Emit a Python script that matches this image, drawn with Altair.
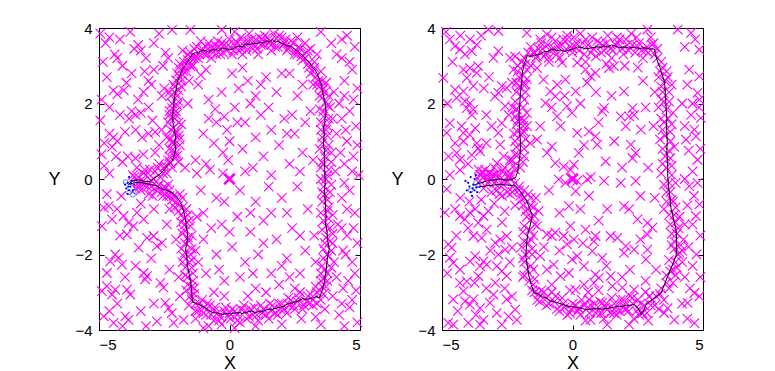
import altair as alt
import pandas as pd

X_TICKS = [-5, 0, 5]
Y_TICKS = [-4, -2, 0, 2, 4]

# ---------------- left panel ----------------
L_PATH = [(-3.87, -0.14), (-3.7, -0.05), (-3.47, -0.02), (-3.3, -0.06), (-3.08, -0.07), (-2.9, 0.02),
          (-2.75, 0.08), (-2.57, 0.19), (-2.4, 0.33), (-2.19, 0.48), (-2.12, 0.62), (-2.06, 0.79),
          (-2.1, 0.95), (-2.06, 1.14), (-2.15, 1.4), (-2.19, 1.67), (-2.14, 1.9), (-2.12, 2.12),
          (-2.05, 2.35), (-2.0, 2.56), (-1.9, 2.75), (-1.8, 2.91), (-1.6, 3.12), (-1.42, 3.31),
          (-1.3, 3.35), (-1.2, 3.33), (-1.1, 3.4), (-0.91, 3.4), (-0.8, 3.36), (-0.7, 3.42),
          (-0.52, 3.44), (-0.4, 3.4), (-0.3, 3.47), (-0.2, 3.46), (0.0, 3.42), (0.12, 3.44),
          (0.25, 3.5), (0.35, 3.52), (0.5, 3.5), (0.63, 3.58), (0.8, 3.56), (0.9, 3.6), (1.05, 3.58),
          (1.14, 3.62), (1.3, 3.6), (1.4, 3.66), (1.55, 3.64), (1.65, 3.69), (1.75, 3.62), (1.85, 3.65),
          (1.97, 3.6), (2.1, 3.57), (2.2, 3.52), (2.32, 3.53), (2.42, 3.47), (2.55, 3.42), (2.7, 3.33),
          (2.8, 3.28), (2.93, 3.16), (3.05, 3.1), (3.15, 2.98), (3.27, 2.9), (3.38, 2.76), (3.45, 2.62),
          (3.5, 2.55), (3.57, 2.29), (3.62, 2.15), (3.66, 2.0), (3.7, 1.76), (3.66, 1.6), (3.65, 1.5),
          (3.6, 1.35), (3.63, 1.23), (3.6, 0.9), (3.65, 0.75), (3.63, 0.61), (3.65, 0.25), (3.67, -0.09),
          (3.64, -0.3), (3.66, -0.5), (3.7, -0.98), (3.68, -1.2), (3.74, -1.4), (3.75, -1.6),
          (3.82, -1.86), (3.76, -2.05), (3.72, -2.3), (3.68, -2.5), (3.63, -2.75), (3.55, -2.95),
          (3.5, -3.05), (3.44, -3.14), (3.3, -3.12), (3.2, -3.15), (2.93, -3.19), (2.8, -3.17),
          (2.7, -3.22), (2.55, -3.25), (2.42, -3.28), (2.25, -3.3), (2.05, -3.38), (1.9, -3.4),
          (1.65, -3.45), (1.5, -3.45), (1.3, -3.5), (1.15, -3.5), (1.01, -3.54), (0.85, -3.5),
          (0.7, -3.52), (0.5, -3.56), (0.37, -3.54), (0.2, -3.55), (0.05, -3.57), (-0.1, -3.56),
          (-0.27, -3.59), (-0.45, -3.55), (-0.65, -3.54), (-0.85, -3.45), (-1.04, -3.37),
          (-1.25, -3.3), (-1.42, -3.26), (-1.45, -3.0), (-1.48, -2.75), (-1.55, -2.5), (-1.61, -2.3),
          (-1.64, -2.05), (-1.68, -1.86), (-1.62, -1.65), (-1.61, -1.42), (-1.66, -1.25), (-1.68, -1.07),
          (-1.76, -0.85), (-1.87, -0.62), (-2.0, -0.5), (-2.19, -0.36), (-2.38, -0.31), (-2.57, -0.27),
          (-2.8, -0.18), (-3.08, -0.14), (-3.35, -0.1), (-3.59, -0.09), (-3.87, -0.14)]

L_CROSS = [
    # outside, upper left
    (-4.75, 3.6), (-4.6, 3.75), (-3.8, 3.9), (-3.65, 3.45), (-3.5, 3.55), (-3.4, 3.4), (-4.4, 3.3),
    (-4.3, 3.2), (-4.85, 3.1), (-4.1, 3.0), (-3.75, 2.8), (-3.25, 2.85), (-2.7, 3.85), (-2.45, 3.35),
    (-2.35, 3.2), (-3.1, 2.6), (-3.0, 2.5), (-4.45, 2.35), (-4.3, 2.25), (-4.05, 2.35), (-3.5, 2.1),
    (-4.9, 2.1), (-2.9, 3.6), (-2.2, 3.95), (-2.6, 2.2), (-2.55, 3.0),
    # outside, middle left
    (-3.6, 1.7), (-3.75, 1.8), (-3.4, 1.75), (-3.85, 1.6), (-4.6, 1.2), (-4.45, 1.1), (-4.3, 1.0),
    (-4.8, 0.95), (-4.5, 0.85), (-3.6, 1.3), (-3.35, 1.1), (-3.1, 1.2), (-3.9, 0.6), (-3.6, 0.55),
    (-4.1, 0.45), (-4.8, 0.35), (-4.6, 0.15), (-2.85, 0.7), (-2.7, 0.4), (-4.95, 1.55), (-4.2, 1.7),
    (-2.95, 1.55),
    # outside, lower left
    (-4.82, -0.76), (-4.63, -0.72), (-4.31, -0.8), (-4.5, -1.07), (-4.06, -0.98), (-3.87, -1.16),
    (-3.55, -0.89), (-3.29, -1.07), (-3.68, -1.25), (-3.93, -1.47), (-4.89, -1.25), (-3.16, -1.56),
    (-2.91, -1.51), (-2.59, -1.69), (-2.78, -1.78), (-3.48, -1.82), (-4.38, -2.0), (-4.25, -2.09),
    (-4.57, -2.18), (-4.12, -2.27), (-4.7, -2.49), (-3.29, -2.49), (-3.16, -2.57), (-3.23, -2.66),
    (-4.7, -2.84), (-4.38, -2.93), (-3.93, -2.93), (-3.8, -3.06), (-4.5, -3.06), (-4.89, -2.97),
    (-2.65, -2.75), (-2.53, -2.88), (-2.46, -3.28), (-2.33, -3.42), (-2.21, -3.55), (-3.99, -3.64),
    (-3.87, -3.73), (-4.82, -3.64), (-4.44, -3.81), (-2.78, -3.77), (-2.14, -3.81), (-1.76, -3.73),
    (-4.6, -3.5), (-4.3, -3.3),
    # band near the start
    (-3.5, 0.05), (-3.3, -0.05), (-3.2, 0.1), (-3.0, -0.2), (-2.9, 0.0), (-2.8, -0.3), (-2.7, -0.15),
    (-2.6, -0.35), (-2.5, -0.2), (-2.4, -0.45), (-2.3, -0.3), (-2.2, -0.55), (-3.4, -0.3), (-3.6, -0.25),
    (-3.7, 0.1), (-3.1, -0.4), (-2.85, 0.2), (-3.55, 0.3), (-3.25, 0.25), (-2.65, 0.05),
    # band along the loop
    (-2.5, 0.3), (-2.35, 0.5), (-2.2, 0.3), (-2.1, 0.6), (-1.95, 0.45), (-2.3, 0.8), (-2.15, 1.0),
    (-1.9, 0.9), (-2.4, 1.1), (-2.25, 1.3), (-2.0, 1.25), (-1.85, 1.45), (-2.35, 1.5), (-2.1, 1.6),
    (-2.3, 1.8), (-2.0, 1.95), (-2.25, 2.2), (-1.95, 2.35), (-2.15, 2.5), (-1.85, 2.6), (-2.0, 2.8),
    (-1.7, 2.95), (-1.9, 3.05), (-1.6, 3.15), (-1.5, 3.35), (-1.3, 3.25), (-1.25, 3.5), (-1.05, 3.45),
    (-0.95, 3.3), (-0.8, 3.6), (-0.6, 3.45), (-0.45, 3.65), (-0.35, 3.3), (-0.2, 3.55), (0.0, 3.7),
    (0.15, 3.4), (0.3, 3.6), (0.45, 3.75), (0.6, 3.5), (0.75, 3.85), (0.9, 3.45), (1.0, 3.7),
    (1.2, 3.55), (1.35, 3.8), (1.5, 3.6), (1.7, 3.85), (1.85, 3.5), (2.0, 3.75), (2.2, 3.4),
    (2.35, 3.65), (2.5, 3.3), (2.65, 3.5), (2.8, 3.15), (2.95, 3.35), (3.05, 2.95), (3.25, 3.1),
    (3.3, 2.7), (3.5, 2.85), (3.45, 2.45), (3.7, 2.55), (3.55, 2.15), (3.8, 2.2), (3.6, 1.8),
    (3.85, 1.9), (3.5, 1.5), (3.75, 1.4), (3.95, 1.6), (3.55, 1.1), (3.8, 0.9), (3.65, 0.6),
    (3.9, 0.45), (3.5, 0.3), (3.75, 0.1), (3.6, -0.2), (3.85, -0.35), (3.55, -0.6), (3.8, -0.75),
    (3.95, -0.95), (3.6, -1.1), (3.85, -1.3), (3.7, -1.55), (3.95, -1.7), (3.6, -1.85), (3.8, -2.05),
    (4.0, -2.2), (3.55, -2.3), (3.75, -2.5), (3.5, -2.7), (3.7, -2.85), (3.35, -3.0), (3.5, -3.2),
    (3.2, -3.35), (3.0, -3.1), (2.85, -3.35), (2.7, -3.0), (2.5, -3.45), (2.35, -3.2), (2.2, -3.55),
    (2.0, -3.3), (1.85, -3.6), (1.65, -3.35), (1.5, -3.7), (1.3, -3.45), (1.1, -3.75), (0.95, -3.4),
    (0.75, -3.65), (0.55, -3.35), (0.4, -3.8), (0.2, -3.5), (0.05, -3.7), (-0.15, -3.4), (-0.3, -3.85),
    (-0.45, -3.55), (-0.6, -3.75), (-0.75, -3.35), (-0.9, -3.6), (-1.05, -3.2), (-1.2, -3.5),
    (-1.35, -3.05), (-1.55, -3.35), (-1.65, -2.95), (-1.4, -2.7), (-1.7, -2.55), (-1.45, -2.35),
    (-1.8, -2.2), (-1.5, -2.0), (-1.85, -1.85), (-1.55, -1.65), (-1.8, -1.45), (-1.5, -1.25),
    (-1.75, -1.05), (-1.95, -0.85), (-1.65, -0.8), (-2.05, -0.6), (-1.8, -0.5),
    (-1.8, 3.4), (-1.4, 3.0), (-1.1, 3.65), (-0.7, 3.2), (0.5, 3.3), (1.1, 3.3), (1.6, 3.4), (2.1, 3.6),
    (2.6, 3.75), (2.9, 3.6), (3.1, 3.45), (3.35, 3.3), (3.2, 2.5), (3.6, 2.4), (4.0, 2.3), (4.2, 2.0),
    (4.1, 1.2), (4.25, 0.7), (4.05, 0.2), (4.3, -0.5), (4.15, -1.2), (4.35, -1.9), (4.1, -2.6),
    (3.95, -3.1), (3.65, -3.45), (3.3, -3.65), (2.75, -3.7), (2.0, -3.85), (1.0, -3.9), (0.2, -3.95),
    (-0.8, -3.9), (-1.3, -3.7), (-1.9, -3.1), (-1.95, -2.6), (-2.05, -1.6), (-1.3, -1.9), (-1.25, -1.0),
    (-2.3, -0.8), (3.2, 0.5), (3.25, -1.5), (3.3, -2.2), (3.1, 1.8), (-1.7, 0.3), (-1.6, 2.0),
    (-1.55, 2.6), (-2.5, 2.4), (-2.6, 1.3), (-2.7, 0.9),
    # tight band on the track
    (-2.05, 0.7), (-2.2, 0.95), (-1.95, 1.15), (-2.15, 1.35), (-2.25, 1.6), (-2.05, 1.8), (-2.2, 2.0),
    (-2.0, 2.2), (-2.1, 2.45), (-1.9, 2.7), (-1.75, 2.85), (-1.55, 3.05), (-1.35, 3.2), (-2.45, 0.35),
    (-2.3, 0.6), (-1.15, 3.3), (-0.9, 3.5), (-0.65, 3.35), (-0.4, 3.5), (-0.1, 3.4), (0.2, 3.55),
    (0.45, 3.45), (0.7, 3.65), (0.95, 3.55), (1.25, 3.7), (1.55, 3.65), (1.8, 3.72), (2.05, 3.55),
    (2.3, 3.5), (2.55, 3.4), (2.75, 3.25), (3.0, 3.05), (3.2, 2.85), (3.4, 2.6), (3.55, 2.35),
    (3.7, 2.05), (3.6, 1.65), (3.7, 1.3), (3.55, 0.95), (3.7, 0.75), (3.6, 0.4), (3.7, 0.0),
    (3.65, -0.4), (3.75, -0.85), (3.7, -1.25), (3.85, -1.65), (3.75, -2.0), (3.65, -2.4), (3.6, -2.65),
    (3.45, -2.95), (3.2, -3.2), (2.95, -3.25), (2.6, -3.25), (2.3, -3.35), (1.95, -3.45), (1.6, -3.5),
    (1.25, -3.55), (0.9, -3.6), (0.6, -3.5), (0.3, -3.6), (0.0, -3.55), (-0.35, -3.65), (-0.6, -3.5),
    (-0.95, -3.4), (-1.3, -3.3), (-1.5, -3.1), (-1.45, -2.85), (-1.6, -2.6), (-1.55, -2.2),
    (-1.7, -1.95), (-1.6, -1.55), (-1.7, -1.2), (-1.85, -0.95), (-1.95, -0.7), (-2.15, -0.45),
    (-2.45, -0.25), (-2.75, -0.2), (-3.0, -0.05), (-3.3, -0.15), (-3.5, -0.1),
    # inside the loop
    (-1.2, 2.5), (-0.8, 2.1), (-0.55, 1.85), (-1.1, 2.75), (-0.8, 1.6), (-0.5, 1.5), (-0.2, 1.65),
    (-0.6, 0.95), (-0.25, 0.7), (-0.05, 0.5), (-1.3, 0.5), (-0.9, 0.4), (-1.25, 0.15), (-0.75, 0.25),
    (-0.25, 0.15), (0.1, 2.8), (0.35, 2.4), (0.7, 2.6), (1.0, 2.2), (1.4, 2.7), (1.8, 2.3), (2.3, 2.8),
    (2.6, 2.2), (0.2, 1.9), (0.6, 1.5), (1.2, 1.7), (1.6, 1.3), (2.1, 1.6), (2.5, 1.2), (2.9, 1.5),
    (0.0, 1.0), (0.5, 0.8), (0.9, 0.3), (1.3, 0.6), (1.9, 0.9), (2.3, 0.4), (2.8, 0.7), (0.4, -0.3),
    (1.0, -0.6), (1.5, -0.2), (2.0, -0.5), (2.6, -0.2), (3.0, -0.8), (-0.5, -0.5), (-1.0, -0.9),
    (-0.3, -1.2), (0.3, -1.0), (0.8, -1.4), (1.3, -1.1), (1.8, -1.6), (2.4, -1.3), (2.9, -1.9),
    (-1.0, -1.6), (-0.5, -2.0), (0.1, -1.8), (0.6, -2.2), (1.1, -2.0), (1.6, -2.5), (2.2, -2.1),
    (2.7, -2.5), (-0.9, -2.5), (-0.2, -2.7), (0.4, -2.6), (1.0, -2.9), (1.9, -2.8), (2.5, -2.9),
    (-0.6, -3.0), (0.7, -3.1),
    # outside, right and edges
    (4.5, 3.8), (4.8, 3.5), (4.3, 3.2), (4.7, 2.9), (4.9, 2.4), (4.4, 2.6), (4.6, 1.8), (4.85, 1.4),
    (4.5, 1.0), (4.75, 0.6), (4.95, 0.1), (4.6, -0.3), (4.8, -0.9), (4.5, -1.5), (4.9, -1.7),
    (4.7, -2.2), (4.55, -2.7), (4.85, -2.95), (4.6, -3.4), (4.9, -3.8), (4.4, -3.9),
    (-1.5, 3.95), (-0.3, 3.95), (0.2, 3.9), (3.5, 3.9), (3.9, 3.6), (4.1, 3.3), (-1.0, -3.95),
    (3.5, -3.85), (4.2, -3.6),
]

L_EXTRA = [
    # more track band
    (-2.28, 0.42), (-2.0, 0.62), (-2.18, 0.78), (-1.92, 1.05), (-2.28, 1.05), (-2.1, 1.22), (-1.95, 1.5),
    (-2.3, 1.7), (-2.05, 1.7), (-2.2, 1.88), (-1.95, 2.05), (-2.3, 2.3), (-2.1, 2.3), (-1.85, 2.45),
    (-2.05, 2.62), (-1.8, 2.75), (-1.95, 2.95), (-1.65, 2.85), (-1.75, 3.1), (-1.5, 3.0), (-1.45, 3.2),
    (-1.6, 3.3), (-1.35, 3.45), (-1.2, 3.2), (-1.0, 3.35), (-0.85, 3.3), (-0.75, 3.5), (-0.55, 3.55),
    (-0.5, 3.3), (-0.3, 3.6), (-0.25, 3.35), (-0.05, 3.55), (0.1, 3.3), (0.25, 3.65), (0.35, 3.4),
    (0.55, 3.62), (0.65, 3.4), (0.85, 3.7), (1.05, 3.45), (1.15, 3.75), (1.3, 3.55), (1.45, 3.75),
    (1.6, 3.55), (1.75, 3.5), (1.9, 3.8), (2.15, 3.7), (2.25, 3.45), (2.45, 3.6), (2.6, 3.3),
    (2.7, 3.45), (2.9, 3.2), (3.0, 3.4), (3.1, 2.8), (3.25, 2.95), (3.35, 2.5), (3.55, 2.6),
    (3.45, 2.2), (3.65, 2.3), (3.75, 1.95), (3.45, 1.85), (3.8, 1.6), (3.5, 1.3), (3.75, 1.15),
    (3.45, 0.8), (3.9, 0.7), (3.55, 0.45), (3.8, 0.25), (3.5, 0.0), (3.9, -0.15), (3.55, -0.35),
    (3.75, -0.55), (3.5, -0.9), (3.8, -1.05), (3.55, -1.35), (3.95, -1.45), (3.65, -1.7), (3.9, -1.9),
    (3.6, -2.1), (3.9, -2.35), (3.5, -2.5), (3.75, -2.7), (3.55, -2.85), (3.3, -2.85), (3.6, -3.05),
    (3.35, -3.3), (3.1, -3.05), (3.05, -3.3), (2.8, -3.45), (2.65, -3.15), (2.45, -3.35), (2.25, -3.15),
    (2.1, -3.45), (1.9, -3.3), (1.75, -3.55), (1.55, -3.3), (1.4, -3.6), (1.2, -3.35), (1.05, -3.6),
    (0.8, -3.45), (0.65, -3.7), (0.45, -3.45), (0.3, -3.75), (0.1, -3.45), (-0.05, -3.65), (-0.2, -3.5),
    (-0.4, -3.75), (-0.55, -3.4), (-0.7, -3.6), (-0.85, -3.3), (-1.0, -3.55), (-1.15, -3.3),
    (-1.3, -3.5), (-1.45, -3.2), (-1.35, -2.9), (-1.6, -2.8), (-1.4, -2.5), (-1.7, -2.35), (-1.45, -2.15),
    (-1.75, -2.05), (-1.45, -1.85), (-1.7, -1.7), (-1.45, -1.5), (-1.75, -1.35), (-1.55, -1.1),
    (-1.85, -1.15), (-1.6, -0.95), (-1.8, -0.75), (-2.1, -0.75), (-1.9, -0.4), (-2.3, -0.45),
    (-2.55, -0.45), (-2.35, -0.15), (-3.65, 0.05), (-3.45, -0.2), (-3.15, -0.2), (-2.95, -0.45),
    (-3.3, 0.15), (-3.05, 0.25), (-2.75, 0.3), (-2.55, 0.15), (-2.4, 0.15),
    # more background
    (-4.95, 3.85), (-4.2, 3.7), (-3.2, 3.2), (-2.9, 2.9), (-4.7, 2.7), (-3.95, 2.55), (-3.3, 2.3),
    (-4.6, 1.9), (-3.1, 1.9), (-2.85, 1.25), (-4.0, 1.25), (-4.9, 0.65), (-3.3, 0.65), (-4.35, 0.6),
    (-2.9, -0.8), (-3.4, -0.65), (-4.15, -0.45), (-4.7, -0.4), (-4.2, -1.5), (-3.0, -2.1), (-2.3, -2.4),
    (-2.4, -1.2), (-3.6, -2.3), (-4.0, -2.6), (-2.9, -3.3), (-3.4, -3.5), (-3.2, -3.9), (-4.1, -3.9),
    (-0.9, 2.9), (0.5, 2.95), (1.2, 2.5), (2.0, 2.8), (2.8, 2.5), (-0.3, 2.3), (0.8, 2.0), (1.5, 1.9),
    (2.4, 1.7), (-1.0, 1.2), (-0.1, 1.3), (0.3, 1.5), (1.0, 1.1), (2.2, 1.2), (2.7, 0.2), (1.6, 0.1),
    (0.6, 0.2), (-1.1, -0.3), (-0.2, -0.6), (0.8, -0.9), (1.6, -0.9), (2.2, -0.9), (2.7, -1.5),
    (-0.7, -1.3), (0.0, -1.4), (1.3, -1.7), (2.0, -2.3), (-1.2, -2.2), (-0.4, -2.4), (0.9, -2.5),
    (2.3, -2.6), (1.4, -3.0), (-0.2, -3.1),
    (4.3, 3.7), (4.6, 3.1), (4.4, 2.2), (4.75, 2.1), (4.3, 1.6), (4.45, 1.3), (4.9, 0.9), (4.4, 0.4),
    (4.7, 0.2), (4.4, -0.1), (4.5, -0.8), (4.3, -1.3), (4.75, -1.3), (4.45, -2.0), (4.8, -2.5),
    (4.35, -2.9), (4.7, -3.2), (4.3, -3.3),
]

L_BLUE = [(-3.9, -0.1), (-3.8, -0.2), (-3.85, -0.3), (-3.75, -0.05), (-3.95, -0.25), (-3.7, -0.3),
          (-4.0, -0.15), (-3.85, 0.05), (-3.65, -0.15), (-3.9, -0.4), (-3.8, -0.12), (-3.88, -0.2)]
L_RING = [(-3.85, -0.35), (-3.62, -0.32), (-3.98, -0.08), (-3.7, -0.42)]

# ---------------- right panel ----------------
R_PATH = [(-3.78, -0.16), (-3.5, -0.1), (-3.27, -0.05), (-3.0, -0.02), (-2.76, 0.0), (-2.55, -0.03),
          (-2.37, -0.02), (-2.18, 0.04), (-2.1, 0.2), (-2.05, 0.44), (-2.0, 0.7), (-1.99, 0.97),
          (-2.03, 1.3), (-2.05, 1.67), (-2.02, 2.0), (-1.99, 2.29), (-1.95, 2.55), (-1.92, 2.82),
          (-1.85, 3.05), (-1.73, 3.27), (-1.6, 3.25), (-1.45, 3.28), (-1.3, 3.3), (-1.22, 3.31),
          (-1.1, 3.37), (-0.95, 3.38), (-0.85, 3.42), (-0.71, 3.44), (-0.6, 3.4), (-0.45, 3.42),
          (-0.3, 3.38), (-0.19, 3.4), (-0.05, 3.43), (0.05, 3.45), (0.2, 3.5), (0.32, 3.49),
          (0.5, 3.45), (0.7, 3.47), (0.9, 3.5), (1.09, 3.49), (1.2, 3.53), (1.35, 3.5), (1.5, 3.55),
          (1.6, 3.53), (1.8, 3.48), (2.0, 3.5), (2.15, 3.47), (2.37, 3.49), (2.55, 3.46),
          (2.75, 3.47), (2.95, 3.45), (3.14, 3.44), (3.2, 3.25), (3.27, 3.09), (3.35, 2.95),
          (3.42, 2.8), (3.53, 2.56), (3.56, 2.2), (3.59, 1.85), (3.62, 1.6), (3.6, 1.4), (3.63, 0.97),
          (3.61, 0.75), (3.64, 0.5), (3.65, 0.08), (3.7, -0.35), (3.78, -0.8), (3.84, -0.95),
          (3.88, -1.1), (3.97, -1.33), (3.99, -1.7), (3.97, -2.04), (3.9, -2.15), (3.82, -2.3),
          (3.65, -2.57), (3.52, -2.8), (3.4, -3.01), (3.15, -3.15), (2.88, -3.28), (2.8, -3.35),
          (2.75, -3.45), (2.63, -3.59), (2.5, -3.4), (2.37, -3.32), (2.2, -3.35), (2.05, -3.34),
          (1.9, -3.38), (1.73, -3.37), (1.55, -3.4), (1.4, -3.42), (1.2, -3.44), (1.09, -3.45),
          (0.9, -3.42), (0.75, -3.44), (0.6, -3.46), (0.45, -3.45), (0.3, -3.42), (0.1, -3.4),
          (-0.05, -3.38), (-0.19, -3.37), (-0.35, -3.32), (-0.5, -3.3), (-0.65, -3.26), (-0.83, -3.23),
          (-1.0, -3.15), (-1.15, -3.12), (-1.3, -3.05), (-1.47, -3.01), (-1.58, -2.8), (-1.67, -2.57),
          (-1.73, -2.3), (-1.79, -2.04), (-1.76, -1.75), (-1.73, -1.51), (-1.63, -1.25), (-1.54, -0.98),
          (-1.65, -0.75), (-1.79, -0.54), (-2.0, -0.33), (-2.18, -0.18), (-2.5, -0.16), (-2.76, -0.14),
          (-3.0, -0.16), (-3.27, -0.18), (-3.5, -0.2), (-3.72, -0.23)]

R_CROSS = [
    # upper left quadrant
    (-4.7, 3.7), (-4.5, 3.52), (-4.31, 3.43), (-4.12, 3.3), (-3.93, 3.7), (-3.67, 3.56), (-3.86, 3.39),
    (-3.22, 3.96), (-2.84, 3.92), (-3.03, 3.21), (-2.84, 3.39), (-2.39, 3.21), (-2.2, 3.25), (-2.26, 2.9),
    (-4.95, 2.68), (-4.18, 2.9), (-3.93, 2.94), (-3.67, 2.81), (-4.05, 2.68), (-3.61, 2.99), (-4.5, 2.37),
    (-4.44, 2.15), (-4.18, 2.32), (-3.8, 2.46), (-4.12, 2.06), (-3.93, 2.01), (-4.05, 1.88), (-3.8, 1.84),
    (-3.86, 1.7), (-2.97, 2.19), (-2.84, 2.28), (-2.71, 2.46), (-2.32, 2.55), (-2.52, 2.41), (-2.58, 1.93),
    (-2.45, 1.7), (-2.13, 1.84), (-2.0, 1.57), (-1.75, 1.4), (-1.94, 1.22), (-4.7, 1.48), (-4.82, 1.22),
    (-4.25, 1.4), (-4.18, 1.22), (-3.93, 1.17), (-3.73, 1.35), (-4.18, 1.0), (-2.84, 1.22), (-2.71, 1.48),
    (-3.67, 0.95), (-3.61, 0.82), (-3.54, 0.73), (-3.86, 0.64), (-4.44, 0.69), (-4.31, 0.51), (-2.77, 0.91),
    (-2.64, 0.6), (-2.39, 0.51), (-2.9, 0.42), (-3.35, 0.24), (-3.16, 0.16), (-2.97, 0.11), (-3.54, 0.11),
    (-4.31, 0.24), (-4.7, 0.11), (-1.62, 0.95), (-1.36, 1.04), (-0.98, 0.69), (-0.79, 0.86), (-0.66, 0.42),
    (-0.34, 0.33), (-0.08, 0.24), (-1.24, 1.4), (-0.85, 2.32), (-0.66, 2.19), (-1.04, 2.01), (-0.21, 1.93),
    (-0.02, 1.75), (-0.59, 1.66), (-0.46, 1.4), (-1.75, 3.87), (-1.24, 3.7), (-0.98, 3.83), (-0.66, 3.65),
    (-0.21, 3.7), (-0.02, 3.47), (-0.4, 3.08), (-0.91, 3.21), (-1.36, 3.25), (-1.36, 2.94), (-1.11, 2.63),
    (-0.59, 2.5), (-0.27, 2.63),
    # upper right quadrant
    (0.18, 3.08), (0.5, 2.9), (0.69, 2.72), (0.88, 2.81), (0.56, 2.55), (0.12, 2.32), (1.21, 1.88),
    (1.14, 1.79), (1.97, 2.32), (2.3, 1.88), (2.17, 1.66), (2.36, 1.7), (1.85, 1.66), (2.62, 1.31),
    (2.04, 1.4), (0.18, 1.22), (0.63, 1.26), (0.88, 1.13), (0.44, 0.9), (0.95, 0.91), (0.24, 0.69),
    (0.05, 0.38), (1.27, 0.47), (2.23, 0.91), (2.42, 0.69), (2.3, 0.55), (1.4, 2.94), (1.59, 2.99),
    (4.47, 2.9), (4.86, 2.72), (4.79, 2.28), (4.86, 2.1), (4.54, 1.7), (4.92, 1.62), (4.67, 1.31),
    (4.35, 1.04), (4.73, 1.13), (4.79, 0.51), (4.6, 0.2), (4.86, 3.43), (4.54, 3.87), (4.03, 3.96),
    (2.87, 3.96),
    # lower left quadrant
    (-4.82, -0.27), (-4.89, -0.89), (-4.5, -0.8), (-4.31, -0.98), (-4.12, -1.07), (-3.93, -0.89),
    (-3.73, -0.8), (-3.41, -0.98), (-3.22, -0.85), (-3.61, -1.16), (-3.29, -1.34), (-3.8, -1.51),
    (-3.48, -1.56), (-2.96, -1.69), (-2.77, -1.6), (-2.52, -1.51), (-2.58, -1.87), (-2.84, -2.0),
    (-2.32, -1.82), (-4.76, -1.73), (-4.63, -1.82), (-4.7, -2.09), (-4.57, -2.22), (-4.31, -2.4),
    (-3.93, -2.18), (-3.73, -2.04), (-3.41, -2.18), (-3.54, -2.31), (-3.29, -2.27), (-2.9, -2.31),
    (-2.71, -2.44), (-2.52, -2.57), (-2.96, -2.75), (-3.61, -2.57), (-4.05, -2.71), (-4.31, -2.75),
    (-4.18, -2.97), (-4.57, -3.19), (-4.12, -3.24), (-3.93, -3.33), (-3.8, -3.19), (-3.54, -3.42),
    (-3.16, -3.28), (-3.03, -3.06), (-2.52, -3.19), (-2.32, -3.11), (-2.2, -3.46), (-2.13, -3.73),
    (-2.45, -3.64), (-2.71, -3.86), (-3.41, -3.73), (-3.54, -3.86), (-3.99, -3.81), (-4.57, -3.86),
    (-4.76, -3.81), (-1.36, -1.25), (-0.98, -1.47), (-0.66, -1.42), (-0.79, -1.51), (-1.24, -2.04),
    (-0.98, -2.4), (-0.72, -2.27), (-0.46, -2.57), (-0.14, -2.49), (-0.02, -2.13), (-0.21, -1.73),
    (-0.34, -1.51), (-0.08, -1.25), (-0.27, -0.1), (-0.53, -0.01), (-0.14, -0.72),
    # lower right quadrant
    (0.18, -0.05), (0.56, -0.01), (1.21, -0.05), (1.85, -0.1), (2.42, -0.05), (0.12, -0.32),
    (0.63, -0.45), (1.33, -0.8), (1.97, -0.72), (2.17, -0.8), (2.49, -1.07), (2.87, -1.16), (0.5, -1.34),
    (0.88, -1.51), (0.82, -1.65), (1.46, -1.51), (1.72, -1.56), (2.04, -1.78), (1.97, -1.96),
    (2.36, -1.87), (2.87, -1.87), (2.81, -2.13), (0.05, -1.6), (0.18, -2.04), (0.76, -1.91),
    (1.14, -2.09), (0.44, -2.31), (0.88, -2.53), (1.01, -2.62), (0.82, -2.75), (0.44, -2.8),
    (0.12, -2.93), (1.53, -2.84), (1.91, -2.88), (1.46, -2.57), (2.36, -2.93), (0.24, -3.42),
    (0.63, -3.19), (1.14, -3.28), (1.59, -3.55), (2.04, -3.46), (2.68, -3.55), (0.69, -3.73),
    (1.33, -3.86), (2.17, -3.86), (3.64, -3.42), (3.51, -3.55), (4.67, -3.02), (4.86, -3.11),
    (4.41, -3.28), (4.73, -0.98), (4.86, -0.67), (4.47, -0.19), (4.79, -0.1), (3.9, -3.73),
    (4.67, -3.82), (2.87, -1.47), (3.06, -1.29), (4.45, -1.8), (4.6, -2.3), (4.3, -2.6),
    # band along the track
    (-3.5, 0.1), (-3.3, 0.0), (-3.2, 0.15), (-3.0, -0.1), (-2.85, 0.05), (-2.7, 0.2), (-2.6, -0.05),
    (-2.45, 0.1), (-2.3, -0.2), (-3.4, -0.25), (-3.1, -0.35), (-2.9, -0.3), (-2.7, -0.45), (-2.5, -0.35),
    (-3.6, 0.25), (-2.2, 0.25),
    (-2.3, 0.5), (-1.85, 0.6), (-2.15, 0.85), (-1.8, 1.05), (-2.25, 1.2), (-1.9, 1.4), (-2.1, 1.55),
    (-1.75, 1.75), (-2.3, 1.9), (-1.85, 2.1), (-2.15, 2.3), (-1.8, 2.5), (-2.05, 2.7), (-1.75, 2.9),
    (-2.1, 3.0), (-1.85, 3.2),
    (-1.6, 3.5), (-1.4, 3.2), (-1.2, 3.6), (-1.0, 3.35), (-0.8, 3.75), (-0.6, 3.3), (-0.4, 3.55),
    (-0.2, 3.8), (0.0, 3.35), (0.15, 3.6), (0.3, 3.85), (0.45, 3.3), (0.6, 3.55), (0.75, 3.75),
    (0.9, 3.25), (1.05, 3.6), (1.2, 3.4), (1.35, 3.8), (1.5, 3.2), (1.65, 3.55), (1.8, 3.7), (1.95, 3.3),
    (2.1, 3.55), (2.25, 3.85), (2.4, 3.35), (2.55, 3.6), (2.7, 3.2), (2.85, 3.5), (3.0, 3.75),
    (3.15, 3.3), (0.5, 3.1), (1.3, 3.05), (2.0, 3.0), (-0.9, 3.1),
    (3.4, 3.1), (3.6, 2.85), (3.3, 2.7), (3.8, 2.5), (3.45, 2.3), (3.7, 2.05), (3.3, 1.9), (3.85, 1.75),
    (3.5, 1.5), (3.75, 1.25), (3.35, 1.05), (3.9, 0.85), (3.55, 0.6), (3.8, 0.35), (3.4, 0.15),
    (3.95, -0.1), (3.6, -0.35), (3.85, -0.6), (3.5, -0.8), (4.1, -1.0), (3.75, -1.2), (4.0, -1.45),
    (4.25, -1.6), (3.8, -1.75), (4.1, -1.95), (3.7, -2.15), (4.0, -2.35), (3.6, -2.55), (3.85, -2.75),
    (3.4, -2.9), (4.2, -2.2), (4.3, -1.2), (3.2, -2.4), (3.15, -0.5), (3.1, 1.4), (3.15, 2.3),
    (3.2, -3.1), (3.0, -3.35), (2.8, -3.0), (2.65, -3.55), (2.5, -3.2), (2.35, -3.7), (2.2, -3.1),
    (2.0, -3.45), (1.85, -3.2), (1.7, -3.6), (1.5, -3.15), (1.35, -3.45), (1.2, -3.7), (1.05, -3.25),
    (0.9, -3.55), (0.7, -3.35), (0.5, -3.75), (0.35, -3.2), (0.2, -3.5), (0.0, -3.3), (-0.2, -3.6),
    (-0.4, -3.15), (-0.6, -3.45), (-0.8, -3.0), (-1.0, -3.35), (-1.2, -2.95), (-1.35, -3.2),
    (-1.5, -2.8), (-0.1, -2.95), (1.0, -2.95), (2.9, -3.75), (3.3, -3.45),
    (-1.9, -2.6), (-1.5, -2.4), (-1.85, -2.2), (-1.55, -2.0), (-1.95, -1.8), (-1.6, -1.6), (-1.9, -1.4),
    (-1.45, -1.2), (-1.75, -1.0), (-1.3, -0.85), (-1.6, -0.7), (-1.95, -0.55), (-1.7, -0.4),
    (-2.05, -0.3), (-1.4, -0.5), (-2.2, -0.7),
    # tight band on the track
    (-3.55, -0.05), (-3.35, 0.1), (-3.1, 0.0), (-2.9, 0.15), (-2.65, -0.15), (-2.4, 0.0), (-2.2, -0.1),
    (-2.0, 0.3), (-2.1, 0.65), (-1.95, 0.95), (-2.1, 1.25), (-1.95, 1.6), (-2.15, 1.85), (-1.95, 2.2),
    (-2.05, 2.45), (-1.9, 2.75), (-1.8, 3.05), (-1.7, 3.35), (-1.45, 3.35), (-1.15, 3.45), (-0.85, 3.4),
    (-0.55, 3.5), (-0.3, 3.4), (0.1, 3.5), (0.4, 3.6), (0.8, 3.45), (1.15, 3.55), (1.45, 3.45),
    (1.75, 3.6), (2.15, 3.4), (2.5, 3.5), (2.8, 3.4), (3.05, 3.55), (3.25, 3.2), (3.45, 2.95),
    (3.55, 2.6), (3.5, 2.05), (3.65, 1.6), (3.55, 1.15), (3.7, 0.75), (3.6, 0.3), (3.7, -0.1),
    (3.8, -0.55), (3.9, -0.95), (4.05, -1.3), (3.9, -1.65), (4.05, -2.0), (3.85, -2.4), (3.6, -2.75),
    (3.35, -3.05), (3.05, -3.2), (2.75, -3.35), (2.55, -3.6), (2.3, -3.3), (1.95, -3.35), (1.6, -3.45),
    (1.25, -3.4), (0.95, -3.5), (0.6, -3.4), (0.25, -3.45), (-0.05, -3.45), (-0.35, -3.3), (-0.7, -3.25),
    (-1.0, -3.15), (-1.3, -3.05), (-1.55, -2.95), (-1.65, -2.7), (-1.75, -2.4), (-1.8, -2.0),
    (-1.7, -1.7), (-1.65, -1.35), (-1.55, -1.05), (-1.7, -0.8), (-1.85, -0.5), (-2.05, -0.2),
]

R_EXTRA = [
    # more track band
    (-3.45, 0.2), (-3.25, -0.1), (-3.05, 0.1), (-2.8, -0.15), (-2.55, 0.15), (-2.35, 0.1), (-2.6, 0.3),
    (-3.0, 0.3), (-2.8, -0.4), (-2.4, -0.4), (-2.25, 0.35), (-1.9, 0.45), (-2.2, 0.65), (-1.85, 0.8),
    (-2.2, 1.0), (-1.85, 1.25), (-2.15, 1.45), (-1.85, 1.55), (-2.2, 1.65), (-1.9, 1.9), (-2.2, 2.05),
    (-1.8, 2.3), (-2.15, 2.55), (-1.9, 2.5), (-2.1, 2.85), (-1.75, 2.65), (-1.95, 3.1), (-1.6, 3.0),
    (-1.5, 3.35), (-1.3, 3.45), (-1.1, 3.25), (-0.95, 3.55), (-0.7, 3.45), (-0.5, 3.2), (-0.35, 3.7),
    (-0.1, 3.5), (0.05, 3.75), (0.25, 3.4), (0.5, 3.7), (0.7, 3.35), (0.95, 3.65), (1.1, 3.35),
    (1.3, 3.6), (1.55, 3.4), (1.7, 3.75), (1.9, 3.45), (2.05, 3.7), (2.3, 3.55), (2.45, 3.75),
    (2.65, 3.4), (2.9, 3.35), (3.1, 3.6), (3.25, 3.45), (3.35, 2.85), (3.65, 2.7), (3.4, 2.45),
    (3.7, 2.3), (3.4, 2.1), (3.6, 1.85), (3.4, 1.6), (3.8, 1.45), (3.45, 1.3), (3.75, 1.0), (3.45, 0.8),
    (3.75, 0.55), (3.45, 0.4), (3.8, 0.1), (3.5, -0.15), (3.75, -0.35), (3.6, -0.6), (3.95, -0.75),
    (3.7, -0.95), (3.95, -1.15), (3.8, -1.45), (4.15, -1.75), (3.9, -1.85), (4.2, -1.9), (3.95, -2.2),
    (3.75, -2.45), (3.95, -2.55), (3.7, -2.9), (3.5, -3.2), (3.15, -3.35), (2.95, -3.1), (2.85, -3.55),
    (2.6, -3.3), (2.45, -3.5), (2.3, -3.15), (2.15, -3.5), (1.95, -3.2), (1.8, -3.5), (1.6, -3.3),
    (1.45, -3.55), (1.3, -3.3), (1.1, -3.55), (0.85, -3.3), (0.65, -3.55), (0.45, -3.35), (0.3, -3.6),
    (0.1, -3.35), (-0.1, -3.55), (-0.3, -3.4), (-0.5, -3.5), (-0.65, -3.1), (-0.9, -3.3), (-1.1, -3.0),
    (-1.25, -3.25), (-1.45, -3.0), (-1.45, -2.65), (-1.85, -2.55), (-1.6, -2.3), (-1.9, -2.1),
    (-1.55, -1.85), (-1.85, -1.65), (-1.5, -1.5), (-1.85, -1.25), (-1.5, -0.95), (-1.8, -0.85),
    (-1.5, -0.75), (-1.9, -0.7), (-1.6, -0.5), (-2.0, -0.45), (-1.85, -0.3), (-2.3, -0.35),
    # more background
    (-4.85, 3.9), (-4.3, 3.8), (-3.5, 3.8), (-4.6, 3.1), (-3.2, 2.7), (-3.4, 2.4), (-4.8, 2.0),
    (-3.3, 1.7), (-3.1, 1.4), (-4.5, 0.95), (-3.3, 0.95), (-4.0, 0.4), (-4.75, 0.6), (-3.95, -0.6),
    (-4.3, -0.5), (-3.5, -0.55), (-3.0, -0.65), (-2.6, -0.85), (-4.0, -1.3), (-2.7, -1.15), (-4.45, -1.5),
    (-3.15, -1.9), (-2.4, -2.2), (-4.8, -2.5), (-3.75, -2.75), (-3.3, -2.9), (-2.6, -2.9), (-4.4, -3.5),
    (-2.9, -3.55), (-3.7, -3.6),
    (-0.8, 1.9), (-0.3, 2.2), (0.3, 2.0), (0.9, 2.3), (1.5, 2.2), (2.7, 2.6), (2.5, 2.95), (1.0, 1.5),
    (1.6, 1.0), (2.8, 1.9), (2.9, 0.3), (1.9, 0.3), (0.7, 0.05), (-0.9, -0.3), (-0.5, -0.9), (0.3, -0.8),
    (1.0, -1.1), (2.6, -0.45), (-1.1, -1.8), (-0.5, -1.9), (0.4, -1.7), (1.3, -2.3), (2.2, -2.4),
    (2.6, -1.6), (-0.8, -2.8), (0.6, -3.0), (1.9, -2.6), (2.8, -2.7),
    (4.3, 3.5), (4.7, 3.7), (4.4, 2.5), (4.2, 2.0), (4.6, 2.0), (4.85, 1.9), (4.3, 1.4), (4.45, 0.75),
    (4.9, 0.8), (4.3, 0.0), (4.65, -0.45), (4.4, -0.7), (4.6, -1.2), (4.9, -1.5), (4.75, -2.0),
    (4.9, -2.6), (4.5, -2.9), (4.2, -3.3), (4.4, -3.7),
]

R_BLUE = [(-4.0, -0.1), (-3.9, 0.05), (-3.75, -0.3), (-3.6, -0.1), (-3.85, -0.45), (-4.05, -0.3),
          (-3.7, 0.1), (-3.95, -0.2), (-3.65, -0.35), (-3.8, -0.15), (-4.1, -0.05), (-3.55, -0.2),
          (-3.9, -0.35), (-3.75, 0.0), (-3.82, -0.25), (-3.68, -0.22)]
R_RING = [(-3.9, -0.3), (-3.7, -0.1)]

CENTER = [(0.0, 0.0)]

W, H = 261, 302
MAGENTA = "#ff00ff"
XSHAPE = "M-1,-1L1,1M-1,1L1,-1"
FONT = "Liberation Sans"


def frame(rows, cols=("x", "y")):
    return pd.DataFrame(rows, columns=list(cols))


def panel(path, cross, blue, ring):
    xs = alt.Scale(domain=[-5, 5], nice=False, zero=False)
    ys = alt.Scale(domain=[-4, 4], nice=False, zero=False)
    inward = dict(labels=False, domain=False, grid=False, ticks=True, tickSize=5,
                  tickColor="black", tickWidth=1, title=None)

    dpath = frame(path)
    dpath["i"] = range(len(dpath))

    crosses = alt.Chart(frame(cross)).mark_point(
        shape=XSHAPE, size=90, filled=False, stroke=MAGENTA, strokeWidth=1.1, opacity=1
    ).encode(
        x=alt.X("x:Q", scale=xs, axis=alt.Axis(orient="bottom", values=X_TICKS, ticks=False, domain=False,
                                               grid=False, labelPadding=7, title="X", titlePadding=2)),
        y=alt.Y("y:Q", scale=ys, axis=alt.Axis(orient="left", values=Y_TICKS, ticks=False, domain=False,
                                               grid=False, labelPadding=7, title="Y", titleAngle=0,
                                               titleBaseline="middle", titlePadding=21)),
    )
    center = alt.Chart(frame(CENTER)).mark_point(
        shape=XSHAPE, size=110, filled=False, stroke=MAGENTA, strokeWidth=2.6, opacity=1
    ).encode(x=alt.X("x:Q", scale=xs, axis=None), y=alt.Y("y:Q", scale=ys, axis=None))

    line = alt.Chart(dpath).mark_line(color="black", strokeWidth=1).encode(
        x=alt.X("x:Q", scale=xs, axis=alt.Axis(orient="top", offset=-H, values=X_TICKS, **inward)),
        y=alt.Y("y:Q", scale=ys, axis=alt.Axis(orient="right", offset=-W, values=Y_TICKS, **inward)),
        order="i:Q",
    )
    dots = alt.Chart(frame(blue)).mark_point(filled=True, size=5, color="#0000ff", opacity=1).encode(
        x=alt.X("x:Q", scale=xs, axis=alt.Axis(orient="bottom", offset=-H, values=X_TICKS, **inward)),
        y=alt.Y("y:Q", scale=ys, axis=alt.Axis(orient="left", offset=-W, values=Y_TICKS, **inward)),
    )
    rings = alt.Chart(frame(ring)).mark_point(filled=False, size=22, color="#3355ff", strokeWidth=0.8,
                                             opacity=1).encode(
        x=alt.X("x:Q", scale=xs, axis=None), y=alt.Y("y:Q", scale=ys, axis=None))
    return alt.layer(crosses, center, line, rings, dots).properties(width=W, height=H)


chart = alt.hconcat(
    panel(L_PATH, L_CROSS + L_EXTRA, L_BLUE, L_RING),
    panel(R_PATH, R_CROSS + R_EXTRA, R_BLUE, R_RING),
    spacing=23,
).properties(
    padding={"left": 47, "top": 20, "right": 5, "bottom": 5}, background="white"
).configure_view(
    stroke="black", strokeWidth=1
).configure_axis(
    labelFont=FONT, labelFontSize=15, labelColor="black", titleFont=FONT, titleFontSize=18,
    titleFontWeight="normal", titleColor="black"
)

chart.save("out.html", embed_options={"renderer": "svg", "actions": False})
